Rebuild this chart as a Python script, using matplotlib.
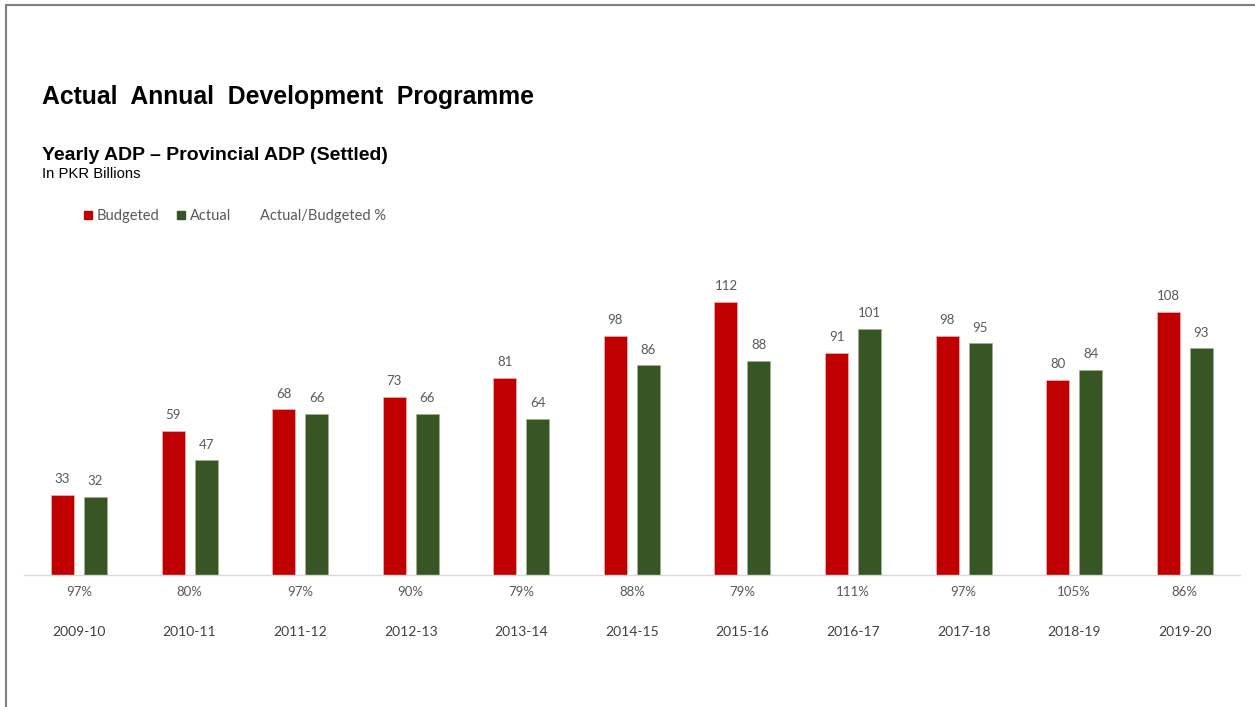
import numpy as np
import matplotlib.pyplot as plt
from matplotlib.lines import Line2D

years = ['2009-10', '2010-11', '2011-12', '2012-13', '2013-14', '2014-15',
         '2015-16', '2016-17', '2017-18', '2018-19', '2019-20']
budgeted = [33, 59, 68, 73, 81, 98, 112, 91, 98, 80, 108]
actual = [32, 47, 66, 66, 64, 86, 88, 101, 95, 84, 93]

red = '#c00000'
green = '#375623'
grey = '#595959'
body_font = ['Lato', 'DejaVu Sans']

W, H = 1255, 707
fig = plt.figure(figsize=(W / 100, H / 100), dpi=100)

# axes placed in pixel terms: baseline at y=575, 2.4375 px per billion
ax = fig.add_axes([23.7 / W, (H - 575) / H, 1216.3 / W, 292.5 / H])
x = np.arange(len(years))
off, bw = 0.149, 0.208
ax.bar(x - off, budgeted, bw, color=red, edgecolor='#f0b0b0', linewidth=0.5)
ax.bar(x + off, actual, bw, color=green, edgecolor='#a0b090', linewidth=0.5)

for xi, b, a in zip(x, budgeted, actual):
    ax.text(xi - off, b + 4, str(b), ha='center', va='bottom',
            fontsize=9.5, color=grey, family=body_font)
    ax.text(xi + off, a + 4, str(a), ha='center', va='bottom',
            fontsize=9.5, color=grey, family=body_font)
    pct = round(100 * a / b)
    ax.text(xi, -7, f'{pct}%', ha='center', va='center',
            fontsize=9.5, color=grey, family=body_font)

ax.set_xlim(-0.5, len(years) - 0.5)
ax.set_ylim(0, 120)
ax.set_xticks(x)
ax.set_xticklabels(years, fontsize=10, color='#404040', family=body_font)
ax.tick_params(axis='x', length=0, pad=37)
ax.set_yticks([])
for s in ['top', 'right', 'left']:
    ax.spines[s].set_visible(False)
ax.spines['bottom'].set_color('#d9d9d9')
ax.spines['bottom'].set_linewidth(1)

# headings
fig.text(42 / W, 1 - 97 / H, 'Actual  Annual  Development  Programme',
         fontsize=17.8, fontweight='bold', family='Liberation Sans',
         va='center', ha='left', color='black')
fig.text(42 / W, 1 - 156 / H, 'Yearly ADP – Provincial ADP (Settled)',
         fontsize=14, fontweight='bold', family='Liberation Sans',
         va='center', ha='left', color='black')
fig.text(42 / W, 1 - 174 / H, 'In PKR Billions', fontsize=10.7,
         family='Liberation Sans', va='center', ha='left', color='black')

# legend row
for px, col in [(88, red), (181, green)]:
    fig.patches.append(plt.Rectangle(((px - 4) / W, 1 - 219 / H), 8 / W, 8 / H,
                                     transform=fig.transFigure, color=col))
fig.text(97 / W, 1 - 216 / H, 'Budgeted', fontsize=10.5, color=grey,
         family=body_font, va='center')
fig.text(190 / W, 1 - 216 / H, 'Actual', fontsize=10.5, color=grey,
         family=body_font, va='center')
fig.text(260 / W, 1 - 216 / H, 'Actual/Budgeted %', fontsize=10.5, color=grey,
         family=body_font, va='center')

# slide frame on left and top
fig.add_artist(Line2D([6 / W, 6 / W], [0, 1 - 5 / H], transform=fig.transFigure,
                      color='#808080', linewidth=1.5))
fig.add_artist(Line2D([6 / W, 1], [1 - 5 / H, 1 - 5 / H], transform=fig.transFigure,
                      color='#808080', linewidth=1.5))

fig.savefig('out.png', dpi=100, facecolor='white')
